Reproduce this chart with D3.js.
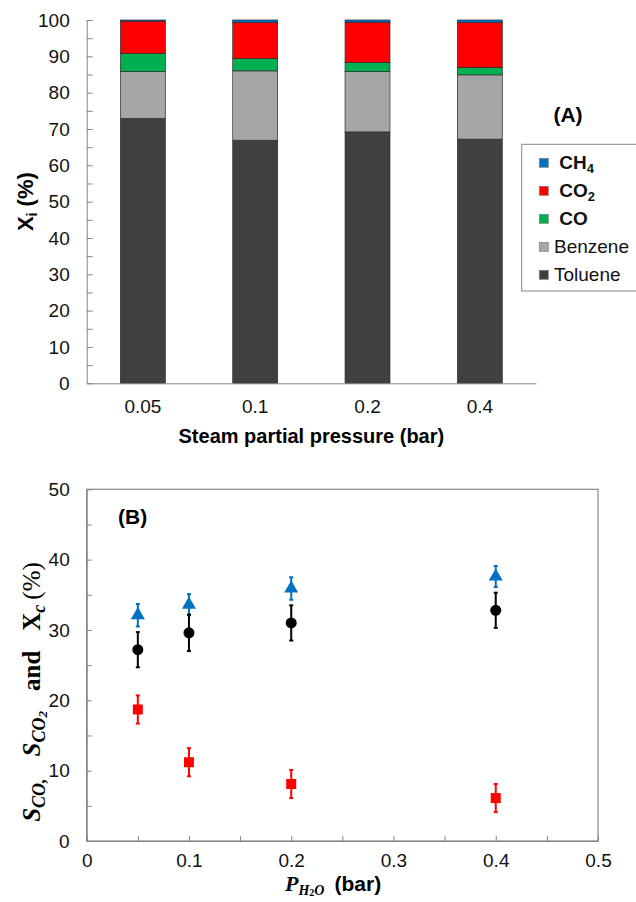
<!DOCTYPE html>
<html>
<head>
<meta charset="utf-8">
<script src="https://cdn.jsdelivr.net/npm/d3@7"></script>
<style>
  html, body { margin: 0; padding: 0; background: #fff; }
  svg { display: block; }
</style>
</head>
<body>
<svg id="chart" width="636" height="902"></svg>
<script>
// ---------- DATA: panel (A) ----------
const categories = ["0.05", "0.1", "0.2", "0.4"];
const toluene = [72.9, 66.9, 69.2, 67.2];
const benzene = [12.9, 19.1, 16.6, 17.7];
const coVals  = [5.0, 3.4, 2.5, 2.0];
const co2Vals = [8.9, 9.9, 11.1, 12.4];
const ch4Vals = [0.3, 0.7, 0.6, 0.7];
const yTicksA = [0, 10, 20, 30, 40, 50, 60, 70, 80, 90, 100];
const seriesNames = ["Toluene", "Benzene", "CO", "CO2", "CH4"];

// ---------- DATA: panel (B) ----------
const pressure = [0.05, 0.1, 0.2, 0.4];
const xC     = [32.1, 33.6, 35.9, 37.6];
const xCErr  = [1.6, 1.5, 1.6, 1.5];
const sCO2   = [27.2, 29.6, 31.0, 32.8];
const sCO2Err= [2.5, 2.6, 2.5, 2.5];
const sCO    = [18.7, 11.2, 8.1, 6.1];
const sCOErr = [2.0, 2.0, 2.0, 2.0];
const xTicksB = [0, 0.1, 0.2, 0.3, 0.4, 0.5];
const xTickLabelsB = ["0", "0.1", "0.2", "0.3", "0.4", "0.5"];
const yTicksB = [0, 10, 20, 30, 40, 50];

// ---------- STYLE ----------
const SANS = "'Liberation Sans', Arial, sans-serif";
const SERIF = "'Liberation Serif', 'Times New Roman', serif";
const AXIS = "#868686";
const colors = { Toluene: "#404040", Benzene: "#a6a6a6", CO: "#00b050", CO2: "#ff0000", CH4: "#0070c0" };

const svg = d3.select("#chart");
svg.append("rect").attr("width", 636).attr("height", 902).attr("fill", "#fff");

// ================= PANEL A =================
const A = { left: 86.7, right: 536, top: 20, bottom: 383.3 };
const xA = d3.scaleBand().domain(categories).range([A.left, A.right]).paddingInner(0.6).paddingOuter(0.3);
const yA = d3.scaleLinear().domain([0, 100]).range([A.bottom, A.top]);

const rows = categories.map((c, i) => ({
  cat: c, Toluene: toluene[i], Benzene: benzene[i], CO: coVals[i], CO2: co2Vals[i], CH4: ch4Vals[i]
}));
const stacked = d3.stack().keys(seriesNames)(rows);

const gA = svg.append("g");
gA.selectAll("g.layer").data(stacked).join("g")
  .attr("class", "layer")
  .attr("fill", d => colors[d.key])
  .selectAll("rect").data(d => d).join("rect")
  .attr("x", d => xA(d.data.cat))
  .attr("width", xA.bandwidth())
  .attr("y", d => yA(d[1]))
  .attr("height", d => yA(d[0]) - yA(d[1]))
  .attr("stroke", "#2b2b2b")
  .attr("stroke-width", 0.7);

// y axis A
const yAxisA = d3.axisLeft(yA)
  .tickValues(d3.range(0, 101, 5))
  .tickSize(-6).tickSizeOuter(0).tickPadding(17)
  .tickFormat(d => (yTicksA.includes(d) ? d : ""));
const gyA = svg.append("g").attr("transform", `translate(${A.left},0)`).call(yAxisA);
gyA.selectAll("path, line").attr("stroke", AXIS);
gyA.selectAll("text").attr("font-family", SANS).attr("font-size", 19).attr("fill", "#111");

// x axis A
const xAxisA = d3.axisBottom(xA).tickSize(0).tickSizeOuter(0).tickPadding(16);
const gxA = svg.append("g").attr("transform", `translate(0,${A.bottom})`).call(xAxisA);
gxA.selectAll("path").attr("stroke", AXIS);
gxA.selectAll("text").attr("font-family", SANS).attr("font-size", 19).attr("fill", "#111");

// titles A
svg.append("text")
  .attr("x", (A.left + A.right) / 2).attr("y", 443)
  .attr("text-anchor", "middle")
  .attr("font-family", SANS).attr("font-size", 20).attr("font-weight", "bold")
  .text("Steam partial pressure (bar)");

const yTitleA = svg.append("text")
  .attr("transform", `translate(33,${(A.top + A.bottom) / 2}) rotate(-90)`)
  .attr("text-anchor", "middle")
  .attr("font-family", SANS).attr("font-size", 22).attr("font-weight", "bold");
yTitleA.append("tspan").text("X");
yTitleA.append("tspan").attr("font-size", 14).attr("dy", 4).text("i");
yTitleA.append("tspan").attr("dy", -4).text(" (%)");

svg.append("text")
  .attr("x", 568).attr("y", 122)
  .attr("text-anchor", "middle")
  .attr("font-family", SANS).attr("font-size", 21).attr("font-weight", "bold")
  .text("(A)");

// legend A
svg.append("rect")
  .attr("x", 521.7).attr("y", 144.3).attr("width", 130).attr("height", 146.7)
  .attr("fill", "#fff").attr("stroke", AXIS).attr("stroke-width", 1);

const legendItems = [
  { key: "CH4", main: "CH", sub: "4", bold: true },
  { key: "CO2", main: "CO", sub: "2", bold: true },
  { key: "CO", main: "CO", sub: "", bold: true },
  { key: "Benzene", main: "Benzene", sub: "", bold: false },
  { key: "Toluene", main: "Toluene", sub: "", bold: false }
];
const lg = svg.append("g");
legendItems.forEach((it, i) => {
  const cy = 162.8 + i * 28;
  lg.append("rect")
    .attr("x", 539.3).attr("y", cy - 4.5).attr("width", 9).attr("height", 9)
    .attr("fill", colors[it.key]).attr("stroke", "#7f7f7f").attr("stroke-width", 0.7);
  const t = lg.append("text")
    .attr("x", it.bold ? 559.3 : 554).attr("y", cy + 6.5)
    .attr("font-family", SANS).attr("font-size", 19)
    .attr("font-weight", it.bold ? "bold" : "normal").attr("fill", "#111");
  t.append("tspan").text(it.main);
  if (it.sub) t.append("tspan").attr("font-size", 13).attr("dy", 4).text(it.sub);
});

// ================= PANEL B =================
const B = { left: 86.7, right: 598, top: 489.3, bottom: 841 };
const xB = d3.scaleLinear().domain([0, 0.5]).range([B.left, B.right]);
const yB = d3.scaleLinear().domain([0, 50]).range([B.bottom, B.top]);

svg.append("rect")
  .attr("x", B.left).attr("y", B.top)
  .attr("width", B.right - B.left).attr("height", B.bottom - B.top)
  .attr("fill", "none").attr("stroke", AXIS).attr("stroke-width", 1.2);

const yAxisB = d3.axisLeft(yB)
  .tickValues(d3.range(0, 51, 5))
  .tickSize(-5).tickSizeOuter(0).tickPadding(17)
  .tickFormat(d => (yTicksB.includes(d) ? d : ""));
const gyB = svg.append("g").attr("transform", `translate(${B.left},0)`).call(yAxisB);
gyB.selectAll("path, line").attr("stroke", AXIS);
gyB.selectAll("text").attr("font-family", SANS).attr("font-size", 19).attr("fill", "#111");

const xMinor = d3.range(0, 11).map(i => i * 0.05);
const xAxisB = d3.axisBottom(xB)
  .tickValues(xMinor)
  .tickSize(-5).tickSizeOuter(0).tickPadding(13)
  .tickFormat((d, i) => (i % 2 === 0 ? xTickLabelsB[i / 2] : ""));
const gxB = svg.append("g").attr("transform", `translate(0,${B.bottom})`).call(xAxisB);
gxB.selectAll("path, line").attr("stroke", AXIS);
gxB.selectAll("text").attr("font-family", SANS).attr("font-size", 19).attr("fill", "#111");

// series B
const seriesB = [
  { vals: xC, err: xCErr, color: "#0070c0", sym: d3.symbolTriangle, size: 85 },
  { vals: sCO2, err: sCO2Err, color: "#000000", sym: d3.symbolCircle, size: 95 },
  { vals: sCO, err: sCOErr, color: "#ff0000", sym: d3.symbolSquare, size: 100 }
];
const gB = svg.append("g");
seriesB.forEach(s => {
  const pts = pressure.map((p, i) => ({ p, v: s.vals[i], e: s.err[i] }));
  const g = gB.append("g");
  g.selectAll("line.eb").data(pts).join("line")
    .attr("x1", d => xB(d.p)).attr("x2", d => xB(d.p))
    .attr("y1", d => yB(d.v - d.e)).attr("y2", d => yB(d.v + d.e))
    .attr("stroke", s.color).attr("stroke-width", 2);
  ["top", "bot"].forEach(k => {
    g.selectAll("line.cap" + k).data(pts).join("line")
      .attr("x1", d => xB(d.p) - 2).attr("x2", d => xB(d.p) + 2)
      .attr("y1", d => yB(k === "top" ? d.v + d.e : d.v - d.e))
      .attr("y2", d => yB(k === "top" ? d.v + d.e : d.v - d.e))
      .attr("stroke", s.color).attr("stroke-width", 2);
  });
  g.selectAll("path.m").data(pts).join("path")
    .attr("transform", d => `translate(${xB(d.p)},${yB(d.v)})`)
    .attr("d", d3.symbol().type(s.sym).size(s.size))
    .attr("fill", s.color);
});

svg.append("text")
  .attr("x", 118).attr("y", 524)
  .attr("font-family", SANS).attr("font-size", 21).attr("font-weight", "bold")
  .text("(B)");

// x title B
const xtB = svg.append("text")
  .attr("x", 285).attr("y", 891)
  .attr("font-family", SERIF).attr("font-size", 22).attr("font-weight", "bold").attr("font-style", "italic");
xtB.append("tspan").text("P");
xtB.append("tspan").attr("font-size", 14).attr("dy", 4).text("H");
xtB.append("tspan").attr("font-size", 10).attr("dy", 1).attr("font-style", "normal").text("2");
xtB.append("tspan").attr("font-size", 14).attr("dy", -1).text("O");
xtB.append("tspan").attr("dy", -4).attr("dx", 10).attr("font-family", SANS).attr("font-size", 21).attr("font-style", "normal").text("(bar)");

// y title B
const ytB = svg.append("text")
  .attr("transform", `translate(40,692) rotate(-90)`)
  .attr("text-anchor", "middle")
  .attr("font-family", SERIF).attr("font-size", 25).attr("font-weight", "bold");
ytB.append("tspan").attr("font-style", "italic").text("S");
ytB.append("tspan").attr("font-style", "italic").attr("font-size", 18).attr("dy", 5).text("CO,");
ytB.append("tspan").attr("font-style", "italic").attr("dy", -5).attr("dx", 22).text("S");
ytB.append("tspan").attr("font-style", "italic").attr("font-size", 18).attr("dy", 5).text("CO");
ytB.append("tspan").attr("font-style", "italic").attr("font-size", 13).attr("dy", 2).text("2");
ytB.append("tspan").attr("dy", -7).attr("dx", 20).text("and");
ytB.append("tspan").attr("dx", 20).text("X");
ytB.append("tspan").attr("font-style", "italic").attr("font-size", 18).attr("dy", 5).text("c");
ytB.append("tspan").attr("font-weight", "normal").attr("dy", -5).attr("dx", 5).text("(%)");
</script>
</body>
</html>
